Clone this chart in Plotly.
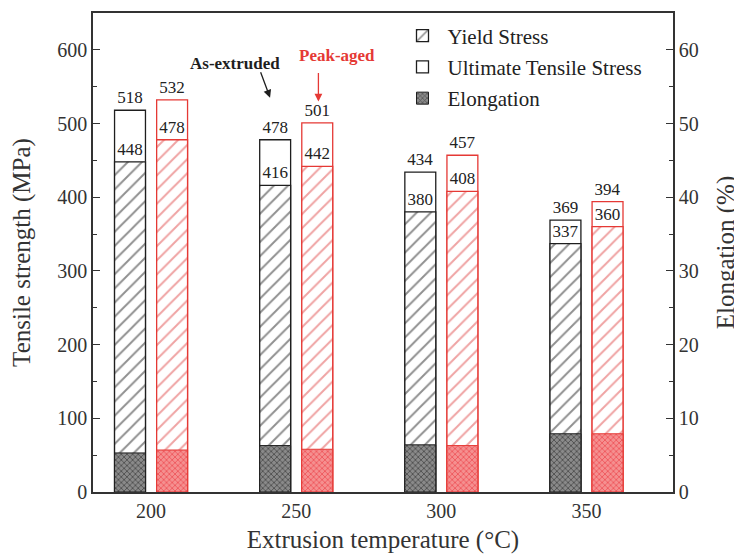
import plotly.graph_objects as go

# ---- data ----
temps = ["200", "250", "300", "350"]
ys_extruded = [448, 416, 380, 337]
uts_extruded = [518, 478, 434, 369]
el_extruded = [5.3, 6.3, 6.4, 7.9]
ys_aged = [478, 442, 408, 360]
uts_aged = [532, 501, 457, 394]
el_aged = [5.7, 5.8, 6.3, 7.9]

FONT = "Liberation Serif"
BLACK = "#1e1e1e"
RED = "#e53935"
idx = list(range(len(temps)))
W = 0.213
OFF_EXT = -0.145 - W / 2
OFF_AGED = 0.145 - W / 2

fig = go.Figure()

def add_group(ys, uts, el, line_col, hatch_col, el_fg, el_bg, show, off):
    fig.add_trace(go.Bar(
        x=idx, y=uts, width=W, offset=off, name="Ultimate Tensile Stress",
        marker=dict(color="white", line=dict(color=line_col, width=1.3)),
        text=[str(v) for v in uts], textposition="outside",
        textfont=dict(family=FONT, size=17, color="#222"),
        cliponaxis=False, showlegend=show, legendgroup="uts", legendrank=2,
        hoverinfo="skip"))
    fig.add_trace(go.Bar(
        x=idx, y=ys, width=W, offset=off, name="Yield Stress",
        marker=dict(color="white", line=dict(color=line_col, width=1.3),
                    pattern=dict(shape="/", fgcolor=hatch_col, bgcolor="white",
                                 size=10, solidity=0.2)),
        text=[str(v) for v in ys], textposition="outside",
        textfont=dict(family=FONT, size=17, color="#222"),
        cliponaxis=False, showlegend=show, legendgroup="ys", legendrank=1,
        hoverinfo="skip"))
    fig.add_trace(go.Bar(
        x=idx, y=el, width=W, offset=off, name="Elongation", yaxis="y2",
        marker=dict(color=el_bg, line=dict(color=line_col, width=1.0),
                    pattern=dict(shape="x", fgcolor=el_fg, bgcolor=el_bg,
                                 size=4, solidity=0.4)),
        showlegend=show, legendgroup="el", legendrank=3, hoverinfo="skip"))

add_group(ys_extruded, uts_extruded, el_extruded, BLACK, "#222222", "#151515", "#8a8a8a", True, OFF_EXT)
add_group(ys_aged, uts_aged, el_aged, RED, "#e04848", "#e8202a", "#f59090", False, OFF_AGED)

axis_font = dict(family=FONT, size=20, color="#333")
title_font = dict(family=FONT, size=25, color="#333")

fig.update_layout(
    width=734, height=546,
    margin=dict(l=85, r=69, t=3, b=62),
    plot_bgcolor="white", paper_bgcolor="white",
    barmode="overlay",
    font=dict(family=FONT, color="#333"),
    xaxis=dict(
        tickmode="array", tickvals=idx, ticktext=temps,
        range=[-0.40, 3.596], showline=True, linecolor="#333", linewidth=1.5,
        mirror=True, ticks="", tickfont=axis_font, showgrid=False, zeroline=False,
        title=dict(text="Extrusion temperature (°C)", font=title_font, standoff=12),
    ),
    yaxis=dict(
        range=[0, 650], dtick=100, tick0=0, showline=True, linecolor="#333",
        linewidth=1.5, ticks="inside", ticklen=7, tickcolor="#333", tickwidth=1.3,
        minor=dict(dtick=50, ticks="inside", ticklen=4, tickcolor="#333"),
        showgrid=False, zeroline=False, tickfont=axis_font,
        title=dict(text="Tensile strength (MPa)", font=title_font, standoff=20),
    ),
    yaxis2=dict(
        overlaying="y", side="right", range=[0, 65], dtick=10, tick0=0,
        showline=True, linecolor="#333", linewidth=1.5, ticks="inside",
        ticklen=7, tickcolor="#333", tickwidth=1.3,
        minor=dict(dtick=5, ticks="inside", ticklen=4, tickcolor="#333"),
        showgrid=False, zeroline=False, tickfont=axis_font,
        title=dict(text="Elongation (%)", font=title_font, standoff=19),
    ),
    legend=dict(
        x=0.525, y=0.995, xanchor="left", yanchor="top",
        font=dict(family=FONT, size=21, color="#222"),
        bgcolor="rgba(0,0,0,0)", traceorder="grouped", tracegroupgap=1,
        itemwidth=40,
    ),
    annotations=[
        dict(x=0.82, y=535, xref="x", yref="y", ax=-10, ay=-27, text="",
             showarrow=True, arrowhead=2, arrowsize=1.2, arrowwidth=1.3,
             arrowcolor=BLACK),
        dict(x=0.58, y=582, xref="x", yref="y", text="<b>As-extruded</b>",
             showarrow=False, font=dict(family=FONT, size=17, color=BLACK)),
        dict(x=1.153, y=530, xref="x", yref="y", ax=0, ay=-30, text="",
             showarrow=True, arrowhead=2, arrowsize=1.2, arrowwidth=1.3,
             arrowcolor=RED),
        dict(x=1.28, y=593, xref="x", yref="y", text="<b>Peak-aged</b>",
             showarrow=False, font=dict(family=FONT, size=17, color=RED)),
    ],
)

fig.write_html("out.html")
